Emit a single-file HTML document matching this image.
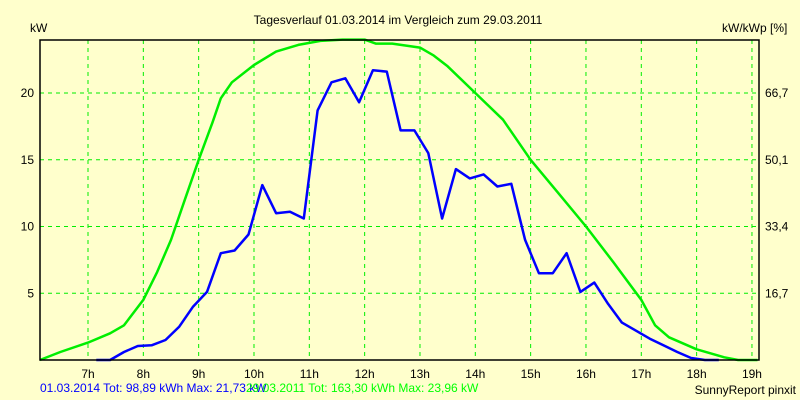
<!DOCTYPE html>
<html><head><meta charset="utf-8"><style>
body{margin:0;background:#ffffcc;}
svg{display:block;font-family:"Liberation Sans",sans-serif;font-size:12px;}
</style></head><body>
<svg width="800" height="400">
<rect x="0" y="0" width="800" height="400" fill="#ffffcc"/>
<text x="398" y="24" text-anchor="middle" fill="#000">Tagesverlauf 01.03.2014 im Vergleich zum 29.03.2011</text>
<text x="30" y="32" fill="#000">kW</text>
<text x="722" y="32" fill="#000">kW/kWp [%]</text>
<g id="grid"></g>
<g id="marks"></g>
<rect x="40" y="40" width="719" height="320" fill="none" stroke="#000" stroke-width="1.5"/>
<text x="40" y="392" fill="#0000ff">01.03.2014 Tot: 98,89 kWh Max: 21,73 kW</text>
<text x="246" y="392" fill="#00ff00">29.03.2011 Tot: 163,30 kWh Max: 23,96 kW</text>
<text x="796" y="394" text-anchor="end" fill="#000">SunnyReport pinxit</text>
</svg>
<script>
const hourTicks=[7,8,9,10,11,12,13,14,15,16,17,18,19];
const yTicks=[5,10,15,20];
const y2Labels=["16,7","33,4","50,1","66,7"];
const blueTimes=[7.15,7.4,7.65,7.9,8.15,8.4,8.65,8.9,9.15,9.4,9.65,9.9,10.15,10.4,10.65,10.9,11.15,11.4,11.65,11.9,12.15,12.4,12.65,12.9,13.15,13.4,13.65,13.9,14.15,14.4,14.65,14.9,15.15,15.4,15.65,15.9,16.15,16.4,16.65,16.9,17.15,17.4,17.65,17.9,18.15,18.4];
const blueValues=[0,0,0.6,1.05,1.1,1.5,2.5,4.0,5.1,8.0,8.2,9.4,13.1,11.0,11.1,10.6,18.7,20.8,21.1,19.3,21.7,21.6,17.2,17.2,15.5,10.6,14.3,13.6,13.9,13.0,13.2,9.0,6.5,6.5,8.0,5.1,5.8,4.2,2.8,2.2,1.6,1.1,0.6,0.15,0,0];
const greenTimes=[6.13,6.5,7.0,7.4,7.65,8.0,8.25,8.5,8.75,9.0,9.25,9.4,9.6,10.0,10.4,10.8,11.2,11.6,12.0,12.2,12.5,13.0,13.25,13.5,14.0,14.5,15.0,15.5,16.0,16.5,17.0,17.25,17.5,18.0,18.5,18.75,19.1];
const greenValues=[0,0.6,1.3,2.0,2.6,4.5,6.6,9.0,12.0,15.0,17.8,19.6,20.8,22.1,23.1,23.6,23.9,24.0,24.0,23.7,23.7,23.4,22.8,22.0,20.0,18.0,15.0,12.5,10.0,7.3,4.5,2.6,1.7,0.8,0.2,0,0];
const X=h=>88+(h-7)*55.33;
const Y=v=>360-v*13.35;
const NS="http://www.w3.org/2000/svg";
const grid=document.getElementById('grid'),marks=document.getElementById('marks');
hourTicks.forEach(h=>{
 const l=document.createElementNS(NS,'line');
 l.setAttribute('x1',X(h));l.setAttribute('x2',X(h));l.setAttribute('y1',40);l.setAttribute('y2',360);
 l.setAttribute('stroke','#00ee00');l.setAttribute('stroke-dasharray','4,4');
 
 
 grid.appendChild(l);
 const t=document.createElementNS(NS,'text');
 t.setAttribute('x',X(h));t.setAttribute('y',378);t.setAttribute('text-anchor','middle');
 t.textContent=h+'h';
 
 
 grid.appendChild(t);
});
yTicks.forEach((v,i)=>{
 const l=document.createElementNS(NS,'line');
 l.setAttribute('x1',40);l.setAttribute('x2',759);l.setAttribute('y1',Y(v));l.setAttribute('y2',Y(v));
 l.setAttribute('stroke','#00ee00');l.setAttribute('stroke-dasharray','4,4');
 
 
 grid.appendChild(l);
 const t=document.createElementNS(NS,'text');
 t.setAttribute('x',34);t.setAttribute('y',Y(v)+4);t.setAttribute('text-anchor','end');
 t.textContent=v;
 
 
 grid.appendChild(t);
 const t2=document.createElementNS(NS,'text');
 t2.setAttribute('x',765);t2.setAttribute('y',Y(v)+4);
 t2.textContent=y2Labels[i];
 
 
 grid.appendChild(t2);
});
function line(ts,vs,color,name){
 const p=document.createElementNS(NS,'polyline');
 p.setAttribute('points',ts.map((t,i)=>X(t).toFixed(1)+','+Y(vs[i]).toFixed(1)).join(' '));
 p.setAttribute('fill','none');p.setAttribute('stroke',color);p.setAttribute('stroke-width','2.5');
 p.setAttribute('stroke-linejoin','round');
 
 
 marks.appendChild(p);
}
line(greenTimes,greenValues,'#00ee00','series-2011-line');
line(blueTimes,blueValues,'#0000ff','series-2014-line');
</script>
</body></html>
